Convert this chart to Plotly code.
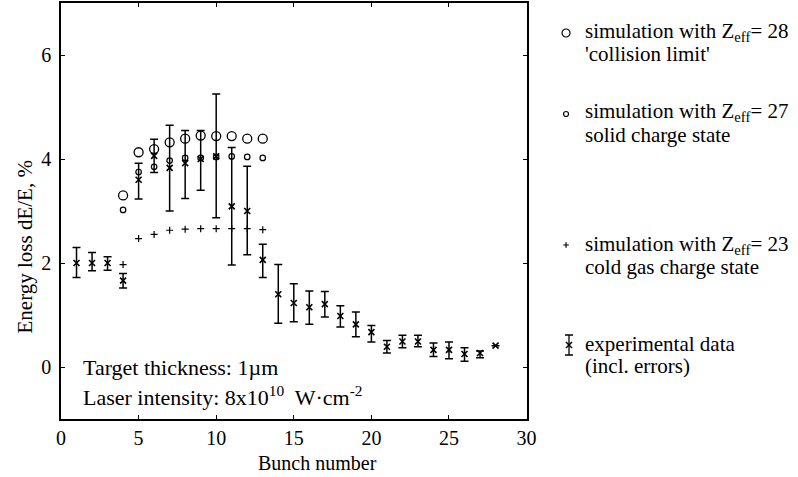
import plotly.graph_objects as go

# ---------------- data ----------------
bunch = list(range(1, 29))
exp_y = [2.0, 2.0, 2.0, 1.66, 3.6, 4.06, 3.83, 3.92, 4.0, 4.05, 3.09, 3.0, 2.06, 1.4,
         1.23, 1.15, 1.21, 0.98, 0.82, 0.67, 0.39, 0.49, 0.49, 0.33, 0.33, 0.25, 0.27, 0.41]
exp_hi = [2.3, 2.2, 2.12, 1.8, 3.92, 4.38, 4.65, 4.55, 4.55, 5.25, 4.22, 3.86, 2.36, 1.97,
          1.6, 1.46, 1.45, 1.18, 1.06, 0.8, 0.51, 0.61, 0.61, 0.46, 0.48, 0.37, 0.31, 0.41]
exp_lo = [1.72, 1.85, 1.86, 1.52, 3.23, 3.74, 3.0, 3.24, 3.4, 2.87, 1.96, 2.16, 1.72, 0.84,
          0.87, 0.82, 0.96, 0.77, 0.58, 0.48, 0.27, 0.37, 0.39, 0.2, 0.16, 0.11, 0.18, 0.41]

sim_x = list(range(4, 14))
sim28 = [3.3, 4.13, 4.19, 4.32, 4.39, 4.45, 4.44, 4.44, 4.39, 4.39]
sim27 = [3.02, 3.75, 3.85, 3.97, 4.02, 4.02, 4.04, 4.05, 4.04, 4.02]
sim23 = [1.97, 2.47, 2.55, 2.63, 2.65, 2.66, 2.66, 2.66, 2.66, 2.64]

x_ticks = [0, 5, 10, 15, 20, 25, 30]
y_ticks = [0, 2, 4, 6]

legend_labels = [
    ("simulation with Z<sub>eff</sub>= 28", "'collision limit'"),
    ("simulation with Z<sub>eff</sub>= 27", "solid charge state"),
    ("simulation with Z<sub>eff</sub>= 23", "cold gas charge state"),
    ("experimental data", "(incl. errors)"),
]

# ---------------- layout geometry ----------------
W, H = 798, 477
ML, MR, MT, MB = 61, 1, 3, 58
PW = W - ML - MR
PH = H - MT - MB
main_right = 533
leg_left = 540
FONT = "Liberation Serif, Times New Roman, serif"
BLACK = "black"

err_plus = [h - y for h, y in zip(exp_hi, exp_y)]
err_minus = [y - l for y, l in zip(exp_y, exp_lo)]

fig = go.Figure()

fig.add_trace(go.Scatter(
    x=bunch, y=exp_y, mode="markers",
    marker=dict(symbol="x-thin-open", size=6, color=BLACK, line=dict(color=BLACK, width=1.6)),
    error_y=dict(type="data", symmetric=False, array=err_plus, arrayminus=err_minus,
                 color=BLACK, thickness=1.5, width=4),
    showlegend=False))
fig.add_trace(go.Scatter(
    x=sim_x, y=sim28, mode="markers",
    marker=dict(symbol="circle-open", size=9, color=BLACK, line=dict(color=BLACK, width=1.3)),
    showlegend=False))
fig.add_trace(go.Scatter(
    x=sim_x, y=sim27, mode="markers",
    marker=dict(symbol="circle-open", size=5.5, color=BLACK, line=dict(color=BLACK, width=1.2)),
    showlegend=False))
fig.add_trace(go.Scatter(
    x=sim_x, y=sim23, mode="markers",
    marker=dict(symbol="cross-thin-open", size=5, color=BLACK, line=dict(color=BLACK, width=1.2)),
    showlegend=False))

# ---------------- legend (on its own pixel-scaled axes) ----------------
leg_sym_x = 573
leg_rows = [33, 114, 245, 345]
fig.add_trace(go.Scatter(x=[leg_sym_x], y=[leg_rows[0]], xaxis="x2", yaxis="y2", mode="markers",
    marker=dict(symbol="circle-open", size=8, color=BLACK, line=dict(color=BLACK, width=1.2)),
    showlegend=False))
fig.add_trace(go.Scatter(x=[leg_sym_x], y=[leg_rows[1]], xaxis="x2", yaxis="y2", mode="markers",
    marker=dict(symbol="circle-open", size=5, color=BLACK, line=dict(color=BLACK, width=1.2)),
    showlegend=False))
fig.add_trace(go.Scatter(x=[leg_sym_x], y=[leg_rows[2]], xaxis="x2", yaxis="y2", mode="markers",
    marker=dict(symbol="cross-thin-open", size=4, color=BLACK, line=dict(color=BLACK, width=1.2)),
    showlegend=False))
fig.add_trace(go.Scatter(x=[leg_sym_x + 3], y=[leg_rows[3]], xaxis="x2", yaxis="y2", mode="markers",
    marker=dict(symbol="x-thin-open", size=6, color=BLACK, line=dict(color=BLACK, width=1.5)),
    error_y=dict(type="constant", value=10, color=BLACK, thickness=1.3, width=4),
    showlegend=False))

annotations = []
line_y = [(32, 54), (112, 135), (245, 267), (344, 366)]
for (l1, l2), (y1, y2) in zip(legend_labels, line_y):
    for txt, yy in ((l1, y1), (l2, y2)):
        annotations.append(dict(x=590, y=yy, xref="x2", yref="y2", text=txt, showarrow=False,
                                xanchor="left", yanchor="middle",
                                font=dict(family=FONT, size=21, color=BLACK)))

# text inside plot
annotations.append(dict(x=1.3, y=0.0, xref="x", yref="y", text="Target thickness: 1µm",
                        showarrow=False, xanchor="left", yanchor="middle",
                        font=dict(family=FONT, size=22, color=BLACK)))
annotations.append(dict(x=1.3, y=-0.56, xref="x", yref="y",
                        text="Laser intensity: 8x10<sup>10</sup>  W·cm<sup>-2</sup>",
                        showarrow=False, xanchor="left", yanchor="middle",
                        font=dict(family=FONT, size=22, color=BLACK)))


def px_x(p):
    return (p - ML) / PW


def px_y(p):
    return (H - MB - p) / PH


# axis titles (placed in paper space)
annotations.append(dict(x=px_x(321), y=px_y(463), xref="paper", yref="paper", text="Bunch number",
                        showarrow=False, xanchor="center", yanchor="middle",
                        font=dict(family=FONT, size=20, color=BLACK)))
annotations.append(dict(x=px_x(25), y=px_y(247), xref="paper", yref="paper",
                        text="Energy loss dE/E, %",
                        showarrow=False, xanchor="center", yanchor="middle", textangle=-90,
                        font=dict(family=FONT, size=21, color=BLACK)))

axis_common = dict(showgrid=False, zeroline=False, showline=True, linecolor=BLACK,
                   linewidth=1.5, mirror="ticks", ticks="inside", ticklen=4, tickwidth=1,
                   tickcolor=BLACK, tickfont=dict(family=FONT, size=20, color=BLACK))

fig.update_layout(
    width=W, height=H,
    margin=dict(l=ML, r=MR, t=MT, b=MB, pad=0),
    paper_bgcolor="white", plot_bgcolor="white",
    showlegend=False,
    xaxis=dict(range=[0, 30], tickvals=x_ticks, domain=[0, px_x(main_right)],
               anchor="y", **axis_common),
    yaxis=dict(range=[-1, 7], tickvals=y_ticks, anchor="x", ticklabelstandoff=4, **axis_common),
    xaxis2=dict(domain=[px_x(leg_left), 1], range=[leg_left, W - MR], visible=False,
                anchor="y2", fixedrange=True),
    yaxis2=dict(domain=[0, 1], range=[H - MB, MT], visible=False, anchor="x2", fixedrange=True),
    annotations=annotations,
)

fig.write_html("out.html", config={"displayModeBar": False},
               post_script="document.body.style.margin='0';")
